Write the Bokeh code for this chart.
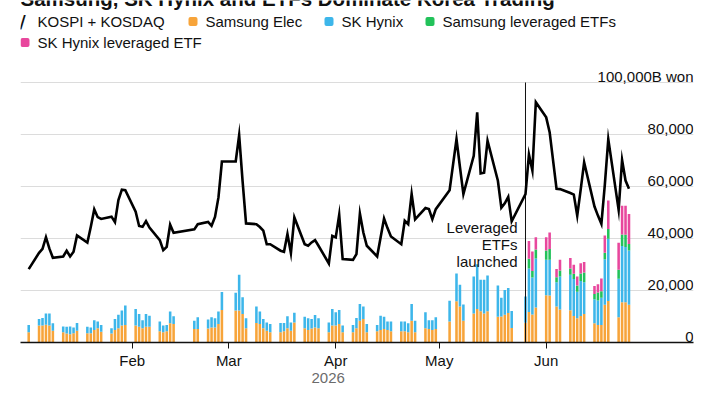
import pandas as pd
from bokeh.plotting import figure
from bokeh.models import (ColumnDataSource, Range1d, FixedTicker, DatetimeTickFormatter,
                          Label, BoxAnnotation, Title)
from bokeh.core.properties import value
from bokeh.embed import file_html
from bokeh.resources import INLINE

W, H = 720, 405
FONT = "Liberation Sans"

# ---------------- data (billion won) ----------------
trading_days = {
    1: [2, 5, 6, 7, 8, 9, 12, 13, 14, 15, 16, 19, 20, 21, 22, 23, 26, 27, 28, 29, 30],
    2: [2, 3, 4, 5, 6, 9, 10, 11, 12, 13, 19, 20, 23, 24, 25, 26, 27],
    3: [3, 4, 5, 6, 9, 10, 11, 12, 13, 16, 17, 18, 19, 20, 23, 24, 25, 26, 27, 30, 31],
    4: [1, 2, 3, 6, 7, 8, 9, 10, 13, 14, 15, 16, 17, 20, 21, 22, 23, 24, 27, 28, 29, 30],
    5: [4, 6, 7, 8, 11, 12, 13, 14, 15, 18, 19, 20, 21, 22, 26, 27, 28, 29],
    6: [1, 2, 4, 5, 8, 9, 10, 11, 12, 15, 16, 17, 18, 19, 22, 23, 24, 25],
}
dates = [f"2026-{m:02d}-{d:02d}" for m, days in trading_days.items() for d in days]

kospi_kosdaq = [
    28200, 34500, 36000, 40500, 36100, 32600, 33100, 35300, 33100, 34900, 41200, 38400, 44500, 51200, 48200, 47500, 48400, 46300, 54800, 58800, 58600,
    50300, 44800, 44500, 46700, 44200, 39400, 35500, 36800, 45300, 42200, 43500, 45500, 46400, 44900, 48300, 55800, 69600,
    69600, 79700, 62000, 45800, 45500, 44400, 43000, 37800, 37800, 35300, 34900, 41700, 34400, 48100, 37800, 37200, 38500, 39400, 37200, 30400, 41000,
    40400, 49100, 32100, 31800, 34000, 49600, 42300, 37200, 33100, 40400, 47700, 44000, 40800, 37800, 46800, 45500, 57100, 47400, 51700, 51300, 47400, 51300,
    58600, 78200, 67500, 57100, 71800, 88500, 65000, 65300, 77600, 62200, 51800, 53500, 56000, 46600, 57100, 72300, 66100, 92400,
    86600, 80900, 59100, 59000, 57500, 56900, 48800, 58800, 69300, 52300, 48800, 45600, 60700, 78200, 51000, 70200, 62300, 59100,
]
samsung_elec = [
    3900, 6500, 6500, 6800, 6500, 4500, 3900, 3500, 3200, 3600, 4500, 3600, 3600, 4800, 5500, 4100, 3500, 4800, 5500, 6500, 6700,
    6500, 6100, 5500, 6100, 6100, 4300, 3900, 4300, 7400, 7100, 5200, 5200, 5400, 5800, 5800, 7100, 12500,
    12300, 12300, 11000, 5500, 7500, 7100, 5500, 4500, 3900, 3900, 4300, 5500, 4500, 7700, 5500, 4800, 5400, 5800, 5500, 3900, 6500,
    6500, 7100, 3900, 3900, 5500, 8400, 9000, 3900, 4300, 4800, 5200, 4800, 4300, 4300, 4300, 3900, 8400, 3900, 5500, 5200, 4800, 5200,
    8100, 15900, 13800, 8400, 11200, 12900, 12000, 11200, 12000, 9900, 10000, 10700, 11300, 5600, 7600, 11700, 10800, 13500,
    18200, 18100, 13800, 12700, 12400, 10200, 9300, 10200, 11000, 7400, 6700, 6700, 14500, 16000, 9700, 15500, 15500, 14500,
]
sk_hynix = [
    2800, 2500, 2900, 4400, 4700, 2900, 2300, 2600, 3000, 2200, 3000, 2500, 2200, 3800, 2600, 2600, 2000, 4200, 5200, 5800, 7500,
    6400, 4900, 3100, 4900, 4200, 3800, 2600, 2400, 4500, 3000, 3200, 4500, 3400, 3900, 3500, 4800, 6900,
    6800, 13800, 6400, 3800, 6300, 4800, 3500, 3200, 3200, 3600, 3200, 4600, 3200, 3700, 4400, 4500, 3600, 4800, 3800, 3800, 6400,
    5100, 5400, 2600, 2800, 3900, 6400, 4800, 3200, 2400, 5500, 4700, 3300, 3800, 3800, 3800, 3500, 6400, 4500, 6100, 3400, 3800, 4500,
    8000, 10600, 8400, 6200, 14200, 17200, 12100, 12900, 13800, 12000, 7200, 9500, 9700, 6500, 10100, 16800, 14200, 18800,
    13600, 13700, 9400, 12700, 13700, 14200, 10200, 13500, 12200, 9200, 9500, 10500, 17500, 23900, 14800, 21600, 21200, 20900,
]
# leveraged ETFs trade from 2026-05-27 onward
etf_first_day = "2026-05-27"
samsung_lev_etfs = [3700, 2500, 3500,
                    3600, 4200, 1900, 2300, 2400, 2000, 2400, 2800, 3700, 2100, 3000, 2500, 2500, 3800, 3500, 4400, 4700, 2500]
hynix_lev_etf = [6800, 7500, 4700,
                 5100, 6300, 3200, 4100, 4000, 3500, 3500, 4000, 4100, 3000, 3200, 4900, 6700, 10900, 10400, 11100, 11200, 11500]
launch_date = "2026-05-26"

ytick_vals = [0, 20000, 40000, 60000, 80000, 100000]
ytick_labels = ["0", "20,000", "40,000", "60,000", "80,000", "100,000B won"]
month_ticks = ["2026-02-01", "2026-03-01", "2026-04-01", "2026-05-01", "2026-06-01"]
year_label = "2026"

series = ["samsung", "hynix", "sam_etf", "hyn_etf"]
series_names = ["Samsung Elec", "SK Hynix", "Samsung leveraged ETFs", "SK Hynix leveraged ETF"]
colors = ["#f7a43a", "#3db6ea", "#22c25a", "#e8479d"]

# ---------------- build table ----------------
n_pre = dates.index(etf_first_day)
src = ColumnDataSource(dict(
    x=pd.to_datetime(dates),
    total=kospi_kosdaq,
    samsung=samsung_elec,
    hynix=sk_hynix,
    sam_etf=[0] * n_pre + samsung_lev_etfs,
    hyn_etf=[0] * n_pre + hynix_lev_etf,
))

# ---------------- figure ----------------
day_ms = 86400000
t0 = pd.Timestamp("2026-01-01")
x_range = Range1d(t0 - pd.Timedelta(days=1.38), t0 + pd.Timedelta(days=193.7))
FRAME_BOTTOM = 342
PX_PER_20K = 52.0
y_range = Range1d(0, 20000 * FRAME_BOTTOM / PX_PER_20K)

p = figure(width=W, height=H, x_axis_type="datetime", x_range=x_range, y_range=y_range,
           y_axis_location=None, toolbar_location=None, output_backend="svg",
           min_border_left=20, min_border_right=27, min_border_top=0,
           min_border_bottom=H - FRAME_BOTTOM, outline_line_color=None)

p.xgrid.visible = False
p.ygrid.ticker = FixedTicker(ticks=ytick_vals[1:])
p.ygrid.grid_line_color = "#dcdcdc"
p.ygrid.grid_line_width = 1.2

ax = p.xaxis[0]
ax.ticker = FixedTicker(ticks=[pd.Timestamp(d).value // 10**6 for d in month_ticks])
ax.formatter = DatetimeTickFormatter(days="%b", months="%b", years="%b", context=None)
ax.axis_line_color = "#111111"
ax.axis_line_width = 1.5
ax.major_tick_line_color = "#111111"
ax.major_tick_line_width = 1
ax.major_tick_out = 6
ax.major_tick_in = 0
ax.minor_tick_line_color = None
ax.major_label_standoff = 3
ax.major_label_text_font = FONT
ax.major_label_text_font_size = "15px"
ax.major_label_text_color = "#111111"

# year line under the month labels
p.add_layout(Title(text=year_label, align="left", offset=291, standoff=-2,
                   text_font=FONT, text_font_size="15px", text_font_style="normal",
                   text_color="#6b6b6b"), "below")

# stacked bars
p.vbar_stack(series, x="x", width=0.74 * day_ms, fill_color=colors, line_color=None, source=src)

# launch marker
p.segment(x0=[pd.Timestamp(launch_date)], y0=[0], x1=[pd.Timestamp(launch_date)], y1=[ytick_vals[-1]],
          line_color="#111111", line_width=1)

# total turnover line
p.line("x", "total", source=src, line_color="black", line_width=2.6, line_join="miter")

# right-hand value labels, sitting on the gridlines
p.text(x=[x_range.end] * len(ytick_vals), y=ytick_vals, text=ytick_labels,
       text_align="right", text_baseline="alphabetic", y_offset=-6,
       text_font=value(FONT), text_font_size="15px", text_color="#111111")

# ---------------- annotations ----------------
# canvas units: origin at top-left, y grows downward
def label(text, x, y, size="15px", color="#111111", align="left", baseline="middle", style="normal",
          font=FONT, x_units="canvas", **kw):
    p.add_layout(Label(x=x, y=y, x_units=x_units, y_units="canvas", text=text,
                       text_font=font, text_font_size=size, text_color=color,
                       text_align=align, text_baseline=baseline, text_font_style=style, **kw))


def swatch(x, y, color):
    p.add_layout(BoxAnnotation(left=x, right=x + 9, top=y - 4.5, bottom=y + 4.5,
                               left_units="canvas", right_units="canvas",
                               top_units="canvas", bottom_units="canvas",
                               fill_color=color, fill_alpha=1, line_color=None,
                               border_radius=2, level="overlay"))


# headline, cropped at the top edge as in the source picture
label("Samsung, SK Hynix and ETFs Dominate Korea Trading", 20, -2, size="20.5px",
      baseline="alphabetic", style="bold")

# legend
label("/", 19, 21, size="17px", style="bold", font="DejaVu Sans")
label("KOSPI + KOSDAQ", 37, 21)
legend_pos = [(188, 21), (324, 21), (425, 21), (20, 42)]
for (lx, ly), name, col in zip(legend_pos, series_names, colors):
    swatch(lx, ly, col)
    label(name, lx + 17, ly)

# launch note
label("Leveraged\nETFs\nlaunched", pd.Timestamp(launch_date), 218, align="right", baseline="top",
      x_units="data", x_offset=-8, text_line_height=1.0)

open("out.html", "w").write(file_html(p, INLINE))
